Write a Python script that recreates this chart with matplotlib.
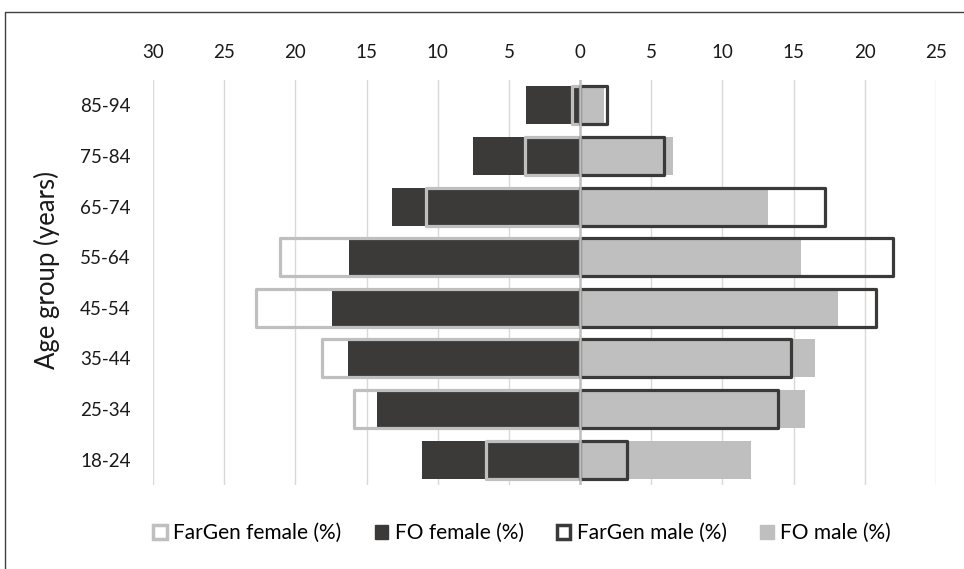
import matplotlib.pyplot as plt
from matplotlib.lines import Line2D
from matplotlib.patches import Patch

plt.rcParams['font.family'] = ['Lato', 'DejaVu Sans']

# ── Data (percent of each sex per age group) ────────────────────────────────
ages          = ["18-24", "25-34", "35-44", "45-54", "55-64", "65-74", "75-84", "85-94"]
fargen_female = [6.6, 15.9, 18.1, 22.8, 21.1, 10.8, 3.9, 0.6]
fo_female     = [11.1, 14.3, 16.3, 17.4, 16.2, 13.2, 7.5, 3.8]
fargen_male   = [3.3, 13.9, 14.8, 20.8, 22.0, 17.2, 5.9, 1.9]
fo_male       = [12.0, 15.8, 16.5, 18.1, 15.5, 13.2, 6.5, 1.7]
x_ticks       = [-30, -25, -20, -15, -10, -5, 0, 5, 10, 15, 20, 25]

DARK  = "#3b3a39"
LIGHT = "#bfbfbf"
GRID  = "#d9d9d9"
TEXT  = "#1a1a1a"

fig = plt.figure(figsize=(9.64, 5.69), dpi=100)
ax = fig.add_axes([153 / 964, 1 - 485 / 569, 783 / 964, 405 / 569])

y = list(range(len(ages)))
h = 0.75

# filled bars (FO) underneath, outlined bars (FarGen) on top
ax.barh(y, [-v for v in fo_female], height=h, color=DARK, zorder=2)
ax.barh(y, fo_male, height=h, color=LIGHT, zorder=2)
ax.barh(y, [-v for v in fargen_female], height=h, fill=False,
        edgecolor=LIGHT, linewidth=2.3, joinstyle="round", zorder=3)
ax.barh(y, fargen_male, height=h, fill=False,
        edgecolor=DARK, linewidth=2.3, joinstyle="round", zorder=3)

ax.axvline(0, color=LIGHT, lw=1.8, zorder=4)

ax.set_xlim(-30, 25)
ax.set_ylim(-0.5, len(ages) - 0.5)

ax.set_xticks(x_ticks)
ax.set_xticklabels([str(abs(t)) for t in x_ticks])
ax.xaxis.tick_top()
ax.tick_params(axis="x", length=0, pad=14, labelsize=13.5, colors=TEXT)
ax.set_yticks(y)
ax.set_yticklabels(ages)
ax.tick_params(axis="y", length=0, pad=16, labelsize=13.5, colors=TEXT)
ax.grid(axis="x", color=GRID, lw=1, zorder=0)
ax.set_axisbelow(True)
for s in ax.spines.values():
    s.set_visible(False)

fig.text(47 / 964, 1 - 270 / 569, "Age group (years)", rotation=90,
         ha="center", va="center", fontsize=18.5, color=TEXT)

handles = [
    Patch(facecolor="white", edgecolor=LIGHT, linewidth=2.5),
    Patch(facecolor=DARK, edgecolor=DARK),
    Patch(facecolor="white", edgecolor=DARK, linewidth=2.5),
    Patch(facecolor=LIGHT, edgecolor=LIGHT),
]
labels = ["FarGen female (%)", "FO female (%)", "FarGen male (%)", "FO male (%)"]
fig.legend(handles, labels, loc="center", bbox_to_anchor=(522 / 964, 1 - 533 / 569),
           ncol=4, frameon=False, fontsize=15, handlelength=0.65, handleheight=0.65,
           handletextpad=0.3, columnspacing=1.6)

# partial frame around the figure (left and top edges visible)
fig.add_artist(Line2D([5 / 964, 5 / 964, 1], [0, 1 - 12 / 569, 1 - 12 / 569],
                      color="#404040", lw=1))

fig.savefig("out.png", dpi=100)
